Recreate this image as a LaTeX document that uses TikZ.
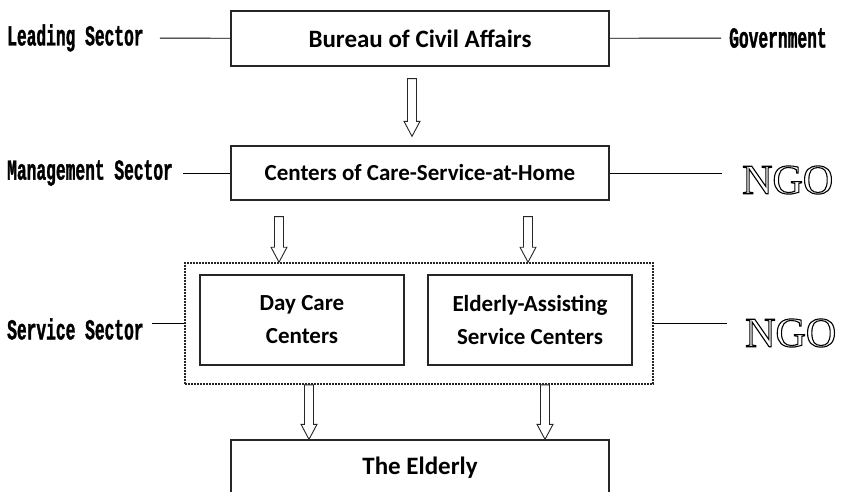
\documentclass[tikz,border=0pt]{standalone}
\usepackage{fontspec}
\setmainfont{Carlito}
\newfontfamily\sectorfont[FakeStretch=0.56,FakeBold=1.2]{Liberation Mono}
\newfontfamily\ngofont{Liberation Serif}
\usetikzlibrary{positioning,calc}

% hollow (stroked) glyphs
\newcommand\hollow[1]{%
  \special{pdf:literal direct q 1 Tr 1.1 w}#1\special{pdf:literal direct Q}}

% open block arrow pointing down, from #1 to #2
\newcommand\blockarrow[2]{%
  \draw[blockarrow] let \p1=(#1), \p2=(#2) in
    (\x1-4.5,\y1) -- (\x1+4.5,\y1) -- (\x1+4.5,\y2+15) -- (\x1+8,\y2+15)
    -- (\x1,\y2) -- (\x1-8,\y2+15) -- (\x1-4.5,\y2+15) -- cycle;}

\begin{document}
\begin{tikzpicture}[
    x=1pt, y=-1pt,
    box/.style={
        draw=black!85,
        line width=1.3pt,
        align=center,
        inner sep=0pt,
        font=\bfseries\fontsize{23}{33}\selectfont
    },
    sector/.style={
        inner sep=0pt,
        font=\sectorfont\bfseries\fontsize{29}{29}\selectfont
    },
    ngo/.style={
        inner sep=0pt,
        font=\ngofont\fontsize{42}{42}\selectfont
    },
    link/.style={
        line width=0.9pt
    },
    blockarrow/.style={
        draw=black!85,
        line width=0.9pt,
        fill=white
    },
    group/.style={
        draw=black!85,
        line width=1.6pt,
        dash pattern=on 1.6pt off 1.4pt
    }
]

\useasboundingbox (0,0) rectangle (843,491);
\clip (0,0) rectangle (843,491);

% ==================================================
% Boxes
% ==================================================

\node[box, minimum width=378pt, minimum height=55pt,
      font=\bfseries\fontsize{25}{25}\selectfont] (bureau) at (420,38.5)
    {Bureau of Civil Affairs};

\node[box, minimum width=378pt, minimum height=54pt] (centers) at (420,173)
    {Centers of Care-Service-at-Home};

\node[group, minimum width=468pt, minimum height=121pt] (service) at (419,323.5) {};

\node[box, minimum width=204pt, minimum height=90pt] (daycare) at (302,320)
    {Day Care\\Centers};

\node[box, minimum width=204pt, minimum height=90pt] (assist) at (530,320)
    {Elderly-Assisting\\Service Centers};

\node[box, minimum width=378pt, minimum height=56pt,
      font=\bfseries\fontsize{25}{25}\selectfont] (elderly) at (420,468)
    {The Elderly};

% ==================================================
% Sectors (left) and their kind (right)
% ==================================================

\node[sector, anchor=west] (lead)   at (7,38)  {Leading Sector};
\node[sector, anchor=west] (manage) at (7,173) {Management Sector};
\node[sector, anchor=west] (serve)  at (7,329) {Service Sector};

\node[sector, anchor=west] (gov) at (729,38) {Government};
\node[ngo, anchor=west] (ngoa) at (742,180) {\hollow{NGO}};
\node[ngo, anchor=west] (ngob) at (745,333) {\hollow{NGO}};

\draw[link, shorten <=16pt] (lead) -- (bureau);
\draw[link, shorten <=10pt] (manage) -- (centers);
\draw[link, shorten <=8pt] (serve.east |- service.west) -- (service.west);

\draw[link, shorten >=8pt] (bureau) -- (gov);
\draw[link] (centers.east) -- ($(centers.east -| ngoa.west)+(-20,0)$);
\draw[link] (service.east) -- ($(service.east -| ngob.west)+(-18,0)$);

% ==================================================
% Flow arrows
% ==================================================

\coordinate (atop) at ($(bureau.south)+(-8,12)$);
\coordinate (aend) at ($(centers.north)+(-8,-9)$);

\coordinate (btop) at ($(centers.south -| daycare)+(-23,16)$);
\coordinate (bend) at ($(service.north -| daycare)+(-23,0)$);
\coordinate (ctop) at ($(centers.south -| assist)+(-2,16)$);
\coordinate (cend) at ($(service.north -| assist)+(-2,0)$);

\coordinate (dtop) at ($(service.south -| daycare)+(7,0)$);
\coordinate (dend) at ($(elderly.north -| daycare)+(7,0)$);
\coordinate (etop) at ($(service.south -| assist)+(15,0)$);
\coordinate (eend) at ($(elderly.north -| assist)+(15,0)$);

\blockarrow{atop}{aend}
\blockarrow{btop}{bend}
\blockarrow{ctop}{cend}
\blockarrow{dtop}{dend}
\blockarrow{etop}{eend}

\end{tikzpicture}
\end{document}
